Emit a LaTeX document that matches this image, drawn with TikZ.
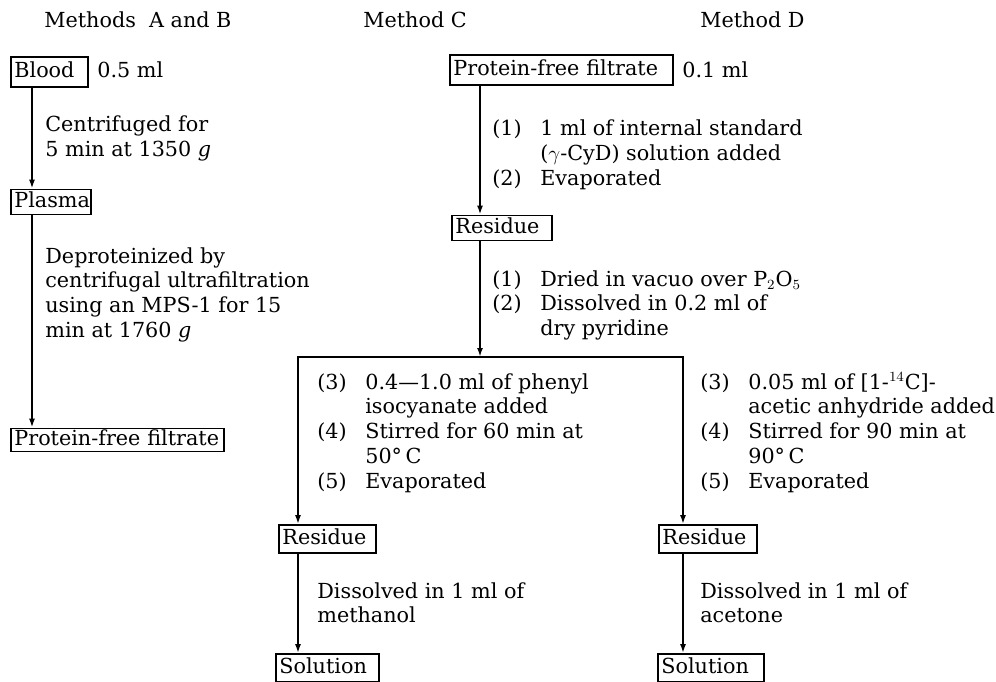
\documentclass[tikz,border=0pt]{standalone}
\usepackage{fontspec}
\setmainfont{DejaVu Serif}
\usetikzlibrary{arrows.meta,calc}
\newcommand{\stepno}[1]{(#1)}

\tikzset{
  box/.style={draw, line width=1pt, anchor=west, inner xsep=2pt, inner ysep=0pt,
    text height=9pt, text depth=3pt, align=left},
  flow/.style={line width=1.1pt, -{Latex[length=1.8mm,width=1.2mm]}},
  txt/.style={anchor=base west, inner sep=0pt}
}

\begin{document}
\begin{tikzpicture}[x=0.02cm, y=-0.02cm, font=\fontsize{11.8}{14.2}\selectfont]
\useasboundingbox (0,0) rectangle (996,682);
% headings
\node [txt] (hAB) at (44,28) {Methods\ \ A and B};
\node [txt] (hC) at (363,28) {Method C};
\node [txt] (hD) at (700,28) {Method D};
% columns
\coordinate (colA) at (32,0);
\coordinate (colC) at (480,0);
\coordinate (colL) at (298,0);
\coordinate (colR) at (683,0);
\coordinate (split) at (480,357);
% methods A and B
\node [box, minimum height=0.6cm, text width=1.4cm] (blood) at (10,72) {Blood};
\node [txt] (bvol) at (97,78) {0.5 ml};
\node [box, minimum height=0.5cm, text width=1.46cm] (plasma) at (10,202) {Plasma};
\node [box, minimum height=0.46cm, text width=4.12cm] (pffA) at (10,440) {Protein-free filtrate};
\draw [flow] (blood.south -| colA) -- (plasma.north -| colA);
\draw [flow] (plasma.south -| colA) -- (pffA.north -| colA);
\node [txt] (lab1) at (45,132) {\begin{tabular}[t]{@{}l@{}}Centrifuged for\\ 5 min at 1350 \textit{g}\end{tabular}};
\node [txt] (lab2) at (45,263) {\begin{tabular}[t]{@{}l@{}}Deproteinized by\\ centrifugal ultrafiltration\\ using an MPS-1 for 15\\ min at 1760 \textit{g}\end{tabular}};
% method C, common part
\node [box, minimum height=0.6cm, text width=4.32cm] (pffC) at (449,70) {Protein-free filtrate};
\node [txt] (cvol) at (682,78) {0.1 ml};
\node [box, minimum height=0.5cm, text width=1.86cm] (res1) at (451,228) {Residue};
\draw [flow] (pffC.south -| colC) -- (res1.north -| colC);
\draw [flow] (res1.south -| colC) -- (split);
\node [txt] (lab3) at (492,136) {\begin{tabular}[t]{@{}p{0.96cm}@{}l@{}}\stepno{1} & 1 ml of internal standard\\ & ($\gamma$-CyD) solution added\\ \stepno{2} & Evaporated\end{tabular}};
\node [txt] (lab4) at (492,286) {\begin{tabular}[t]{@{}p{0.96cm}@{}l@{}}\stepno{1} & Dried in vacuo over P$_2$O$_5$\\ \stepno{2} & Dissolved in 0.2 ml of\\ & dry pyridine\end{tabular}};
% branches
\node [box, minimum height=0.56cm, text width=1.8cm] (res2) at (278,539) {Residue};
\node [box, minimum height=0.56cm, text width=1.82cm] (res3) at (658,539) {Residue};
\node [box, minimum height=0.56cm, text width=1.92cm] (sol2) at (275,668) {Solution};
\node [box, minimum height=0.56cm, text width=1.98cm] (sol3) at (657,668) {Solution};
\draw [flow] (split) -| (res2.north -| colL);
\draw [flow] (split) -| (res3.north -| colR);
\draw [flow] (res2.south -| colL) -- (sol2.north -| colL);
\draw [flow] (res3.south -| colR) -- (sol3.north -| colR);
\node [txt] (lab5) at (317,389) {\begin{tabular}[t]{@{}p{0.96cm}@{}l@{}}\stepno{3} & 0.4---1.0 ml of phenyl\\ & isocyanate added\\ \stepno{4} & Stirred for 60 min at\\ & 50°\,C\\ \stepno{5} & Evaporated\end{tabular}};
\node [txt] (lab6) at (700,389) {\begin{tabular}[t]{@{}p{0.96cm}@{}l@{}}\stepno{3} & 0.05 ml of [1-$^{14}$C]-\\ & acetic anhydride added\\ \stepno{4} & Stirred for 90 min at\\ & 90°\,C\\ \stepno{5} & Evaporated\end{tabular}};
\node [txt] (lab7) at (317,598) {\begin{tabular}[t]{@{}l@{}}Dissolved in 1 ml of\\ methanol\end{tabular}};
\node [txt] (lab8) at (700,598) {\begin{tabular}[t]{@{}l@{}}Dissolved in 1 ml of\\ acetone\end{tabular}};
\end{tikzpicture}
\end{document}
